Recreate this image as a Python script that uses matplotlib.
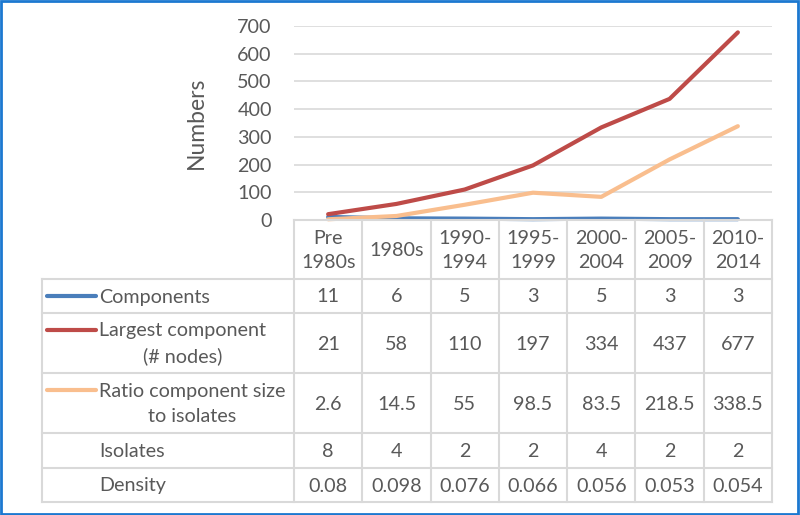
import matplotlib
matplotlib.use("Agg")
import matplotlib.pyplot as plt
from matplotlib.lines import Line2D
from matplotlib.patches import Rectangle
import matplotlib.transforms as mtransforms

# ---- data ----
periods = ["Pre\n1980s", "1980s", "1990-\n1994", "1995-\n1999", "2000-\n2004", "2005-\n2009", "2010-\n2014"]
components = [11, 6, 5, 3, 5, 3, 3]
largest_component = [21, 58, 110, 197, 334, 437, 677]
ratio_size_isolates = [2.6, 14.5, 55, 98.5, 83.5, 218.5, 338.5]
isolates = [8, 4, 2, 2, 4, 2, 2]
density = [0.08, 0.098, 0.076, 0.066, 0.056, 0.053, 0.054]
row_labels = ["Components", "Largest component\n(# nodes)", "Ratio component size\nto isolates", "Isolates", "Density"]
y_ticks = [0, 100, 200, 300, 400, 500, 600, 700]

TXT = "#595959"
GRID = "#D9D9D9"
COLORS = ["#4A7EBB", "#BE4B48", "#F9BE8E"]
FONT = "Lato"
FS = 14.2
LS = 1.55

W, H = 800, 515
fig = plt.figure(figsize=(W / 100, H / 100), dpi=100)

# plot area in pixel coordinates
x0, x1 = 294, 772
y_top, y_bot = 26, 220
ax = fig.add_axes([x0 / W, (H - y_bot) / H, (x1 - x0) / W, (y_bot - y_top) / H])
n = len(periods)
ax.set_xlim(-0.5, n - 0.5)
ax.set_ylim(0, 700)
ax.set_yticks(y_ticks)
ax.set_yticklabels([str(v) for v in y_ticks], fontsize=FS, color=TXT, family=FONT)
ax.set_xticks([])
ax.tick_params(axis="y", length=0, pad=16)
for s in ax.spines.values():
    s.set_visible(False)
ax.grid(axis="y", color=GRID, linewidth=1.2)
ax.set_axisbelow(True)
ax.set_ylabel("Numbers", fontsize=16.5, color=TXT, family=FONT, labelpad=22)

series = [components, largest_component, ratio_size_isolates]
xs = list(range(n))
for vals, c in zip(series, COLORS):
    ax.plot(xs, vals, color=c, linewidth=3, solid_capstyle="round", zorder=3, clip_on=False)

# ---- data table: x in data coords of ax, y in figure pixels (from top) ----
pix = mtransforms.Affine2D().scale(1 / W, -1 / H).translate(0, 1) + fig.transFigure
blend = mtransforms.blended_transform_factory(ax.transData, pix)

row_edges = [220, 279, 313, 373, 433, 468, 502]
left = 42
tbl_lw = 1.5

def hline(y, xa, xb):
    fig.add_artist(Line2D([xa / W, xb / W], [1 - y / H, 1 - y / H], color=GRID, lw=tbl_lw, transform=fig.transFigure))

# horizontal lines
hline(row_edges[0], x0, x1)
for y in row_edges[1:]:
    hline(y, left, x1)
# vertical lines
fig.add_artist(Line2D([left / W, left / W], [1 - row_edges[1] / H, 1 - row_edges[-1] / H], color=GRID, lw=tbl_lw, transform=fig.transFigure))
for i in range(n + 1):
    fig.add_artist(Line2D([i - 0.5, i - 0.5], [row_edges[0], row_edges[-1]], color=GRID, lw=tbl_lw, transform=blend))

# header
for i, p in enumerate(periods):
    fig.text(i, (row_edges[0] + row_edges[1]) / 2 + 1, p, transform=blend, ha="center", va="center",
             fontsize=FS, color=TXT, family=FONT, linespacing=LS)

def fmt(v):
    return "{:g}".format(v)

rows = [components, largest_component, ratio_size_isolates, isolates, density]
for r, (lab, vals) in enumerate(zip(row_labels, rows)):
    yc = (row_edges[r + 1] + row_edges[r + 2]) / 2
    fig.text(99 / W, 1 - (yc + 1) / H, lab, ha="left", va="center", multialignment="center",
             fontsize=FS, color=TXT, family=FONT, linespacing=LS)
    for i, v in enumerate(vals):
        fig.text(i, yc + 1, fmt(v), transform=blend, ha="center", va="center",
                 fontsize=FS, color=TXT, family=FONT)
    if r < 3:
        nl = lab.count("\n") + 1
        ky = yc if nl == 1 else yc - 13
        fig.add_artist(Line2D([47 / W, 96 / W], [1 - ky / H, 1 - ky / H], color=COLORS[r], lw=3,
                              solid_capstyle="round", transform=fig.transFigure))

# figure border
fig.add_artist(Rectangle((0.001, 0.002), 0.997, 0.996, fill=False, edgecolor="#1C78D0", lw=2,
                         transform=fig.transFigure))

fig.savefig("out.png", dpi=100)
